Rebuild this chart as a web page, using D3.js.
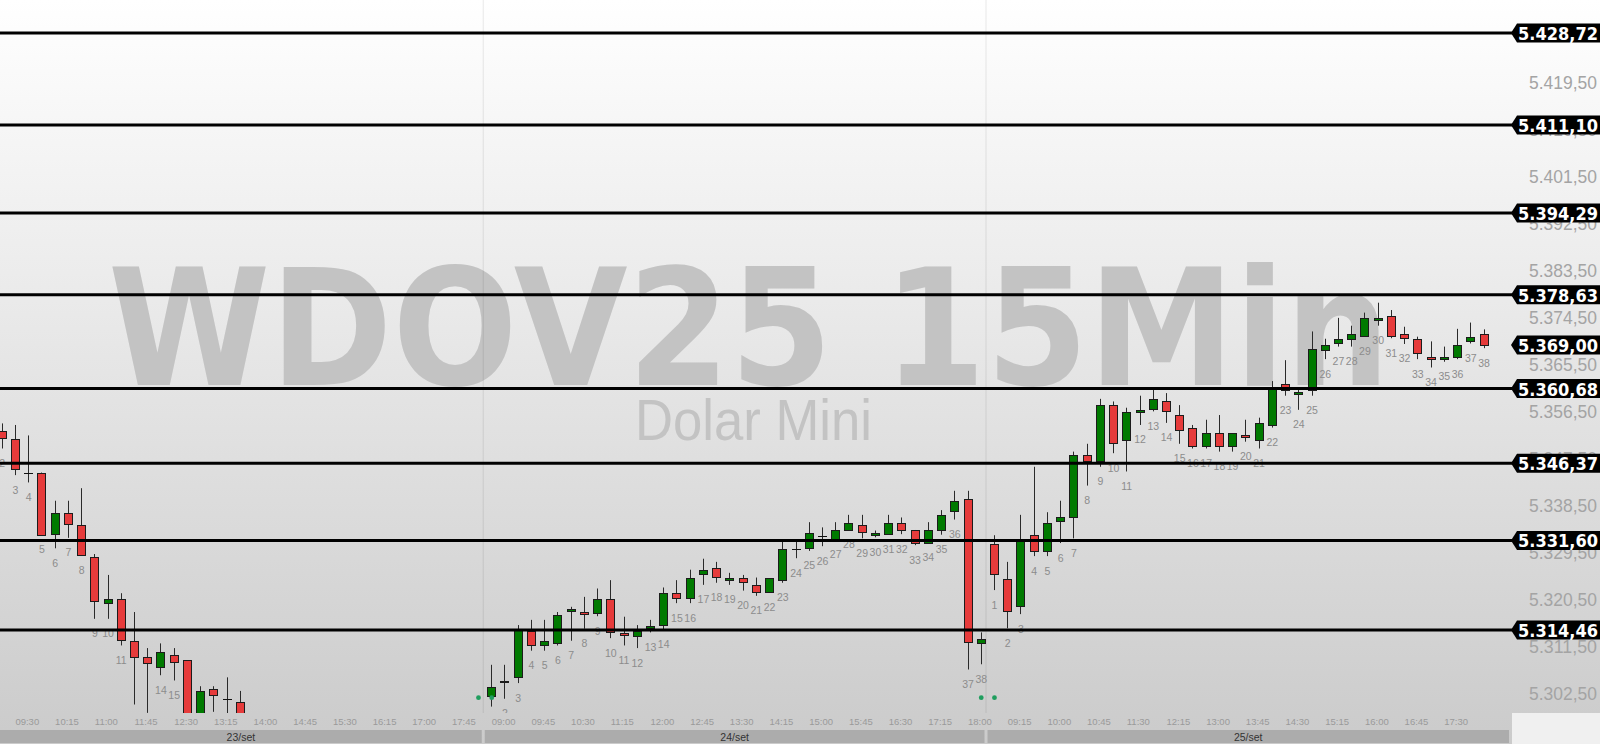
<!DOCTYPE html>
<html><head><meta charset="utf-8">
<script src="https://cdn.jsdelivr.net/npm/d3@7"></script>
<style>html,body{margin:0;padding:0;background:#fff;overflow:hidden}</style>
</head><body>
<svg id="c" width="1600" height="744"></svg>
<script>
// ---------------- DATA ----------------
const days = ["23/set", "24/set", "25/set"];
const sessionTimes = ["09:00","09:15","09:30","09:45","10:00","10:15","10:30","10:45","11:00","11:15",
  "11:30","11:45","12:00","12:15","12:30","12:45","13:00","13:15","13:30","13:45","14:00","14:15",
  "14:30","14:45","15:00","15:15","15:30","15:45","16:00","16:15","16:30","16:45","17:00","17:15",
  "17:30","17:45","18:00","18:15"];

// 23/set (candles out of view are null)
const open23  = [null,5352.6,5351.1,5344.6,5344.6,5332.8,5336.9,5334.5,5328.5,5319.6,5320.3,5312.4,5309.2,5307.4,5309.7,5308.7,5296.5,5303.1,5301.2,5300.7,5297.5,
  null,null,null,null,null,null,null,null,null,null,null,null,null,null,null,null,null];
const high23  = [null,5354.0,5353.7,5351.7,5344.6,5339.2,5339.2,5341.6,5329.0,5325.0,5321.5,5317.9,5311.0,5311.9,5311.0,5308.7,5303.7,5303.7,5305.4,5302.8,5298.4,
  null,null,null,null,null,null,null,null,null,null,null,null,null,null,null,null,null];
const low23   = [null,5349.2,5344.1,5342.7,5332.8,5330.1,5332.1,5328.7,5316.6,5316.6,5311.5,5300.2,5298.6,5305.8,5304.8,5295.5,5296.0,5298.8,5297.5,5296.5,5294.0,
  null,null,null,null,null,null,null,null,null,null,null,null,null,null,null,null,null];
const close23 = [null,5351.3,5345.3,5344.6,5332.8,5336.9,5334.7,5328.7,5320.0,5320.3,5312.5,5309.4,5308.0,5310.3,5308.4,5296.0,5302.7,5301.9,5301.2,5297.5,5295.0,
  null,null,null,null,null,null,null,null,null,null,null,null,null,null,null,null,null];

// 24/set
const open24  = [5301.9,5304.5,5305.5,5314.3,5311.6,5312.0,5318.0,5317.9,5317.6,5320.3,5313.8,5313.4,5314.9,5315.4,5321.5,5320.5,5325.1,5326.4,5324.2,5324.4,5323.0,5321.7,5324.0,5329.9,5330.1,5332.5,5331.9,5333.7,5334.6,5332.7,5332.8,5335.0,5333.6,5331.2,5333.7,5337.2,5339.5,5312.0];
const high24  = [5307.8,5307.8,5315.4,5316.4,5316.4,5317.9,5318.9,5320.8,5322.4,5324.0,5317.0,5315.4,5316.4,5322.6,5324.0,5326.0,5328.1,5327.5,5325.4,5325.0,5324.5,5324.4,5331.4,5331.7,5335.1,5334.1,5335.1,5336.5,5336.5,5333.5,5336.5,5336.0,5333.6,5335.1,5337.4,5341.1,5341.1,5314.0];
const low24   = [5299.8,5301.3,5304.3,5310.5,5310.5,5311.5,5312.4,5314.7,5317.1,5312.9,5311.5,5311.0,5314.0,5314.5,5319.6,5319.6,5323.1,5323.5,5323.1,5322.0,5321.0,5321.7,5323.5,5328.2,5329.6,5330.5,5331.7,5333.7,5332.0,5332.2,5332.8,5332.8,5330.7,5331.2,5332.7,5335.6,5306.9,5307.9];
const close24 = [5303.6,5304.7,5314.5,5311.6,5312.4,5317.4,5318.4,5317.6,5320.3,5314.0,5313.4,5314.3,5315.3,5321.5,5320.5,5324.4,5325.9,5324.7,5324.5,5323.6,5321.7,5324.4,5329.9,5329.9,5333.0,5332.5,5333.6,5335.0,5333.3,5333.0,5335.0,5333.7,5331.2,5333.6,5336.5,5339.2,5312.1,5312.7];

// 25/set
const open25  = [5330.9,5324.3,5319.1,5332.6,5329.6,5335.2,5336.2,5348.0,5346.8,5357.5,5350.7,5356.3,5356.7,5358.2,5355.6,5353.1,5349.7,5352.1,5349.7,5351.7,5350.7,5353.7,5361.5,5359.8,5360.4,5368.2,5369.3,5370.2,5370.7,5373.8,5374.6,5371.1,5370.1,5366.7,5366.3,5366.8,5369.8,5371.1];
const high25  = [5332.6,5327.5,5336.5,5345.7,5337.0,5339.2,5348.6,5350.1,5358.7,5358.2,5357.0,5359.3,5360.7,5359.8,5357.5,5353.7,5354.7,5355.6,5352.1,5354.7,5355.1,5362.1,5366.1,5360.5,5371.6,5370.2,5374.2,5372.7,5375.2,5377.1,5375.7,5372.5,5370.6,5369.7,5368.7,5372.1,5373.3,5372.0];
const low25   = [5322.1,5314.8,5317.5,5328.6,5328.6,5331.1,5332.0,5342.1,5345.7,5348.3,5344.8,5353.7,5356.3,5354.1,5350.1,5349.2,5349.2,5348.6,5348.6,5350.5,5349.2,5353.2,5359.3,5356.6,5359.3,5366.3,5368.7,5368.7,5370.7,5372.7,5370.3,5369.2,5366.3,5364.7,5365.8,5366.3,5369.3,5368.4];
const close25 = [5325.1,5318.1,5331.7,5329.6,5335.0,5336.0,5348.0,5346.8,5357.5,5350.2,5356.1,5356.6,5358.6,5356.3,5352.7,5349.7,5352.1,5349.7,5352.1,5351.3,5354.0,5360.7,5360.4,5360.1,5368.2,5369.1,5370.1,5371.1,5374.1,5374.1,5370.7,5370.3,5367.4,5366.3,5366.7,5369.1,5370.6,5369.0];

const levels = [5428.72, 5411.10, 5394.29, 5378.63, 5360.68, 5346.37, 5331.60, 5314.46];
const lastPrice = 5369.00;
const priceTicks = [5302.5, 5311.5, 5320.5, 5329.5, 5338.5, 5347.5, 5356.5, 5365.5, 5374.5, 5383.5, 5392.5, 5401.5, 5410.5, 5419.5];
const markerIdx = [37, 38, 75, 76];
const symbolTitle = "WDOV25 15Min";
const symbolName = "Dolar Mini";

// ---------------- BUILD ----------------
const perDay = 38;
const O = [open23, open24, open25], Hh = [high23, high24, high25], L = [low23, low24, low25], C = [close23, close24, close25];
const candles = [];
days.forEach((d, di) => {
  for (let k = 0; k < perDay; k++) {
    if (O[di][k] == null) continue;
    candles.push({ i: di * perDay + k, n: k + 1, o: O[di][k], h: Hh[di][k], l: L[di][k], c: C[di][k] });
  }
});

const W = 1600, H = 744, plotRight = 1511, plotBottom = 713;
const x = d3.scaleLinear().domain([0, 113]).range([-11.04, 1484.0]);
const y = d3.scaleLinear().domain([5314.46, 5428.72]).range([630, 33]);
const fmt = d3.formatLocale({ decimal: ",", thousands: ".", grouping: [3], currency: ["", ""] }).format(",.2f");

const svg = d3.select("#c");
const defs = svg.append("defs");
const g = defs.append("linearGradient").attr("id", "bg").attr("x1", 0).attr("y1", 0).attr("x2", 0).attr("y2", 1);
g.append("stop").attr("offset", "0%").attr("stop-color", "#ffffff");
g.append("stop").attr("offset", "100%").attr("stop-color", "#cbcbcb");
defs.append("clipPath").attr("id", "plot").append("rect").attr("x", 0).attr("y", 0).attr("width", plotRight).attr("height", plotBottom);

svg.append("rect").attr("width", W).attr("height", H).attr("fill", "url(#bg)");

// watermark
svg.append("text").text(symbolTitle)
  .attr("x", 108).attr("y", 385)
  .attr("font-family", "DejaVu Sans").attr("font-weight", "bold").attr("font-size", 162)
  .attr("textLength", 1282).attr("lengthAdjust", "spacingAndGlyphs")
  .attr("fill", "#c3c3c3");
svg.append("text").text(symbolName)
  .attr("x", 635).attr("y", 440)
  .attr("font-family", "Liberation Sans").attr("font-size", 57)
  .attr("textLength", 237).attr("lengthAdjust", "spacingAndGlyphs")
  .attr("fill", "#c3c3c3");

// day separators
const seps = [1, 2].map(di => x(di * perDay - 0.64));
svg.append("g").selectAll("line").data(seps).join("line")
  .attr("x1", d => d).attr("x2", d => d).attr("y1", 0).attr("y2", plotBottom)
  .attr("stroke", "rgba(0,0,0,0.09)").attr("stroke-width", 1);

// candles
const cg = svg.append("g").attr("clip-path", "url(#plot)");
const bodyW = 8;
candles.forEach(d => {
  const left = Math.round(x(d.i) - 4.5) + 0.5;
  const cx = left + bodyW / 2;
  const up = d.c >= d.o;
  cg.append("line").attr("x1", cx).attr("x2", cx).attr("y1", y(d.h)).attr("y2", y(d.l))
    .attr("stroke", "#2a2a2a").attr("stroke-width", 1);
  if (Math.abs(d.c - d.o) < 0.05) {
    cg.append("line").attr("x1", left - 0.5).attr("x2", left + bodyW + 0.5)
      .attr("y1", Math.round(y(d.c)) + 0.5).attr("y2", Math.round(y(d.c)) + 0.5)
      .attr("stroke", "#111").attr("stroke-width", 1);
  } else {
    const top = y(Math.max(d.o, d.c)), bot = y(Math.min(d.o, d.c));
    cg.append("rect").attr("x", left).attr("y", Math.round(top) + 0.5)
      .attr("width", bodyW).attr("height", Math.max(1, Math.round(bot - top)))
      .attr("fill", up ? "#007a00" : "#e63b3b").attr("stroke", "#1c1c1c").attr("stroke-width", 1)
      .attr("shape-rendering", "crispEdges");
  }
  const ly = y(d.l) + 14.5;
  if (ly < plotBottom + 2 && x(d.i) > 0) {
    cg.append("text").text(d.n).attr("x", x(d.i)).attr("y", ly)
      .attr("text-anchor", "middle").attr("dominant-baseline", "central")
      .attr("font-family", "Liberation Sans").attr("font-size", 10.5).attr("fill", "#8c8c8c");
  }
});

// markers
svg.append("g").selectAll("circle").data(markerIdx).join("circle")
  .attr("cx", d => x(d)).attr("cy", 697.7).attr("r", 2.4).attr("fill", "#1f9e5e");

// level lines
svg.append("g").selectAll("line").data(levels).join("line")
  .attr("x1", 0).attr("x2", 1514).attr("y1", d => y(d)).attr("y2", d => y(d))
  .attr("stroke", "#000").attr("stroke-width", 3);

// price ticks
svg.append("g").selectAll("text").data(priceTicks).join("text")
  .text(d => fmt(d)).attr("x", 1597).attr("y", d => y(d) + 1.5)
  .attr("text-anchor", "end").attr("dominant-baseline", "central")
  .attr("font-family", "Liberation Sans").attr("font-size", 19)
  .attr("textLength", 68).attr("lengthAdjust", "spacingAndGlyphs")
  .attr("fill", "#a4a4a4");

// tags
const tags = levels.concat([lastPrice]);
const tg = svg.append("g");
tags.forEach(v => {
  const yc = y(v);
  tg.append("path").attr("d", `M1511,${yc} L1517,${yc - 9.5} L1600,${yc - 9.5} L1600,${yc + 9.5} L1517,${yc + 9.5} Z`).attr("fill", "#000");
  tg.append("text").text(fmt(v)).attr("x", 1518).attr("y", yc + 0.5)
    .attr("dominant-baseline", "central")
    .attr("font-family", "DejaVu Sans").attr("font-weight", "bold").attr("font-size", 18)
    .attr("textLength", 80).attr("lengthAdjust", "spacingAndGlyphs")
    .attr("fill", "#fff");
});

// time axis labels
const timeLabels = [];
for (let i = 0; i < days.length * perDay; i++) {
  if (i % 3 === 2 && x(i) + 24 < 1500) timeLabels.push({ i, t: sessionTimes[i % perDay] });
}
svg.append("g").selectAll("text").data(timeLabels).join("text")
  .text(d => d.t).attr("x", d => x(d.i)).attr("y", 721.7)
  .attr("dominant-baseline", "central")
  .attr("font-family", "Liberation Sans").attr("font-size", 9.5).attr("fill", "#9a9a9a");

// date bands
const bandEdges = days.map((d, di) => ({
  d, x0: di === 0 ? 0 : seps[di - 1] + 1.5, x1: di === days.length - 1 ? 1509 : seps[di] - 1.5
}));
const bg = svg.append("g");
bg.selectAll("rect").data(bandEdges).join("rect")
  .attr("x", d => d.x0).attr("y", 730).attr("width", d => d.x1 - d.x0).attr("height", 13)
  .attr("fill", "#acacac");
bg.selectAll("text").data(bandEdges).join("text")
  .text(d => d.d).attr("x", d => (d.x0 + d.x1) / 2).attr("y", 737)
  .attr("text-anchor", "middle").attr("dominant-baseline", "central")
  .attr("font-family", "Liberation Sans").attr("font-size", 10.5).attr("fill", "#333");

// bottom-right corner box
svg.append("rect").attr("x", 1512).attr("y", 713).attr("width", 88).attr("height", 31).attr("fill", "#f0f0f0");
</script></body></html>
